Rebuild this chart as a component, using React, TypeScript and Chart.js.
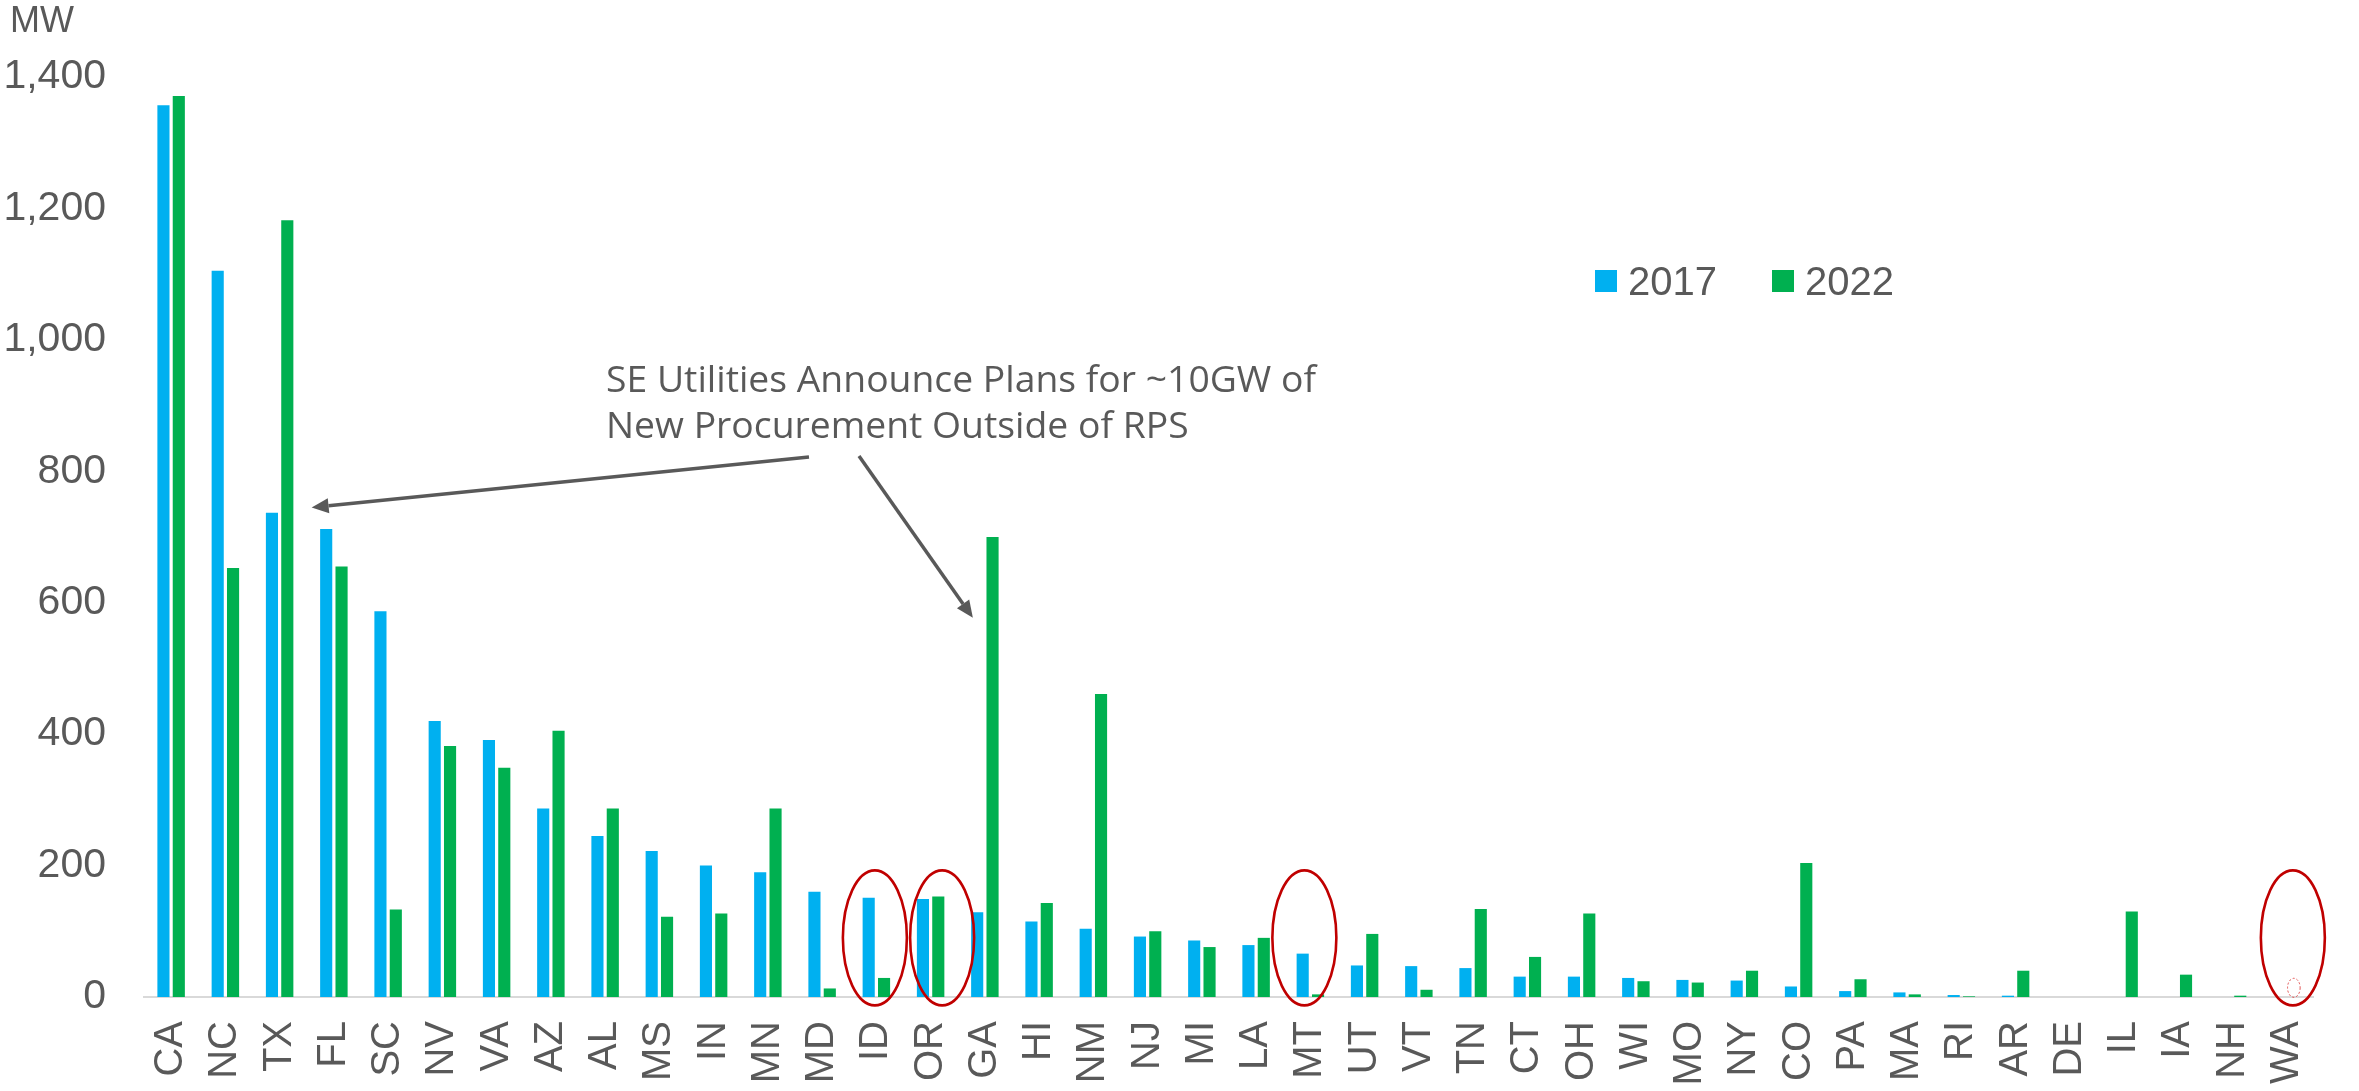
import React, { useEffect, useRef } from "react";
import { Chart, registerables } from "chart.js";

Chart.register(...registerables);

const categories = ["CA","NC","TX","FL","SC","NV","VA","AZ","AL","MS","IN","MN","MD","ID","OR","GA","HI","NM","NJ","MI","LA","MT","UT","VT","TN","CT","OH","WI","MO","NY","CO","PA","MA","RI","AR","DE","IL","IA","NH","WA"];
const values2017 = [1357,1105,737,712,587,420,391,287,245,222,200,190,160,151,149,129,115,104,92,86,79,66,48,47,44,31,31,29,26,25,16,9,7,3,2,0,0,0,0,0];
const values2022 = [1371,653,1182,655,133,382,349,405,287,122,127,287,13,29,153,700,143,461,100,76,90,4,96,11,134,61,127,24,22,40,204,27,4,1,40,0,130,34,2,0];
const seriesLabels = ["2017", "2022"];
const seriesColors = ["#00B0F0", "#00B050"];
const yTicks = [0, 200, 400, 600, 800, 1000, 1200, 1400];
const unitLabel = "MW";
const noteLines = ["SE Utilities Announce Plans for ~10GW of", "New Procurement Outside of RPS"];
const circled = [
  { cat: "ID", dx: -1.5 },
  { cat: "OR", dx: 11.5 },
  { cat: "MT", dx: -6 },
  { cat: "WA", dx: 6 },
];

const TEXT = "#595959";
const FONT = "'Liberation Sans', Arial, sans-serif";

function arrow(ctx: CanvasRenderingContext2D, x1: number, y1: number, x2: number, y2: number) {
  const ang = Math.atan2(y2 - y1, x2 - x1);
  const len = 17, hw = 7.5;
  const bx = x2 - Math.cos(ang) * len;
  const by = y2 - Math.sin(ang) * len;
  ctx.save();
  ctx.strokeStyle = "#595959";
  ctx.fillStyle = "#595959";
  ctx.lineWidth = 3.5;
  ctx.beginPath();
  ctx.moveTo(x1, y1);
  ctx.lineTo(bx, by);
  ctx.stroke();
  ctx.beginPath();
  ctx.moveTo(x2, y2);
  ctx.lineTo(bx + Math.sin(ang) * hw, by - Math.cos(ang) * hw);
  ctx.lineTo(bx - Math.sin(ang) * hw, by + Math.cos(ang) * hw);
  ctx.closePath();
  ctx.fill();
  ctx.restore();
}

const overlay = {
  id: "overlay",
  afterDraw(chart: any) {
    const ctx: CanvasRenderingContext2D = chart.ctx;
    const xs = chart.scales.x;
    const ys = chart.scales.y;
    ctx.save();
    // unit label
    ctx.fillStyle = TEXT;
    ctx.font = `36px ${FONT}`;
    ctx.textAlign = "left";
    ctx.textBaseline = "alphabetic";
    ctx.fillText(unitLabel, 10, 32);

    // legend
    const legendX = [1595, 1772];
    chart.data.datasets.forEach((ds: any, i: number) => {
      ctx.fillStyle = ds.backgroundColor;
      ctx.fillRect(legendX[i], 270, 22, 22);
      ctx.fillStyle = TEXT;
      ctx.font = `40px ${FONT}`;
      ctx.fillText(ds.label, legendX[i] + 33, 295);
    });

    // annotation text
    ctx.font = `36px 'Open Sans', sans-serif`;
    const w = ctx.measureText(noteLines[0]).width;
    const sx = 710 / w;
    ctx.save();
    ctx.translate(606, 0);
    ctx.scale(sx, 1);
    ctx.fillStyle = TEXT;
    ctx.fillText(noteLines[0], 0, 392);
    ctx.fillText(noteLines[1], 0, 438);
    ctx.restore();

    // arrows
    arrow(ctx, 809, 457, xs.getPixelForValue(2) + 32, ys.getPixelForValue(745));
    arrow(ctx, 859, 456, xs.getPixelForValue(15) - 12, ys.getPixelForValue(577));

    // ellipses
    ctx.strokeStyle = "#C00000";
    ctx.lineWidth = 2.6;
    circled.forEach((c) => {
      const idx = categories.indexOf(c.cat);
      const cx = xs.getPixelForValue(idx) + c.dx;
      const cy = ys.getPixelForValue(90);
      ctx.beginPath();
      ctx.ellipse(cx, cy, 32, 67.5, 0, 0, Math.PI * 2);
      ctx.stroke();
    });
    const wa = categories.indexOf("WA");
    ctx.strokeStyle = "#E04848";
    ctx.lineWidth = 1;
    ctx.setLineDash([2, 2]);
    ctx.beginPath();
    ctx.ellipse(xs.getPixelForValue(wa) + 7, ys.getPixelForValue(14), 6.3, 9.5, 0, 0, Math.PI * 2);
    ctx.stroke();
    ctx.setLineDash([]);
    ctx.restore();
  },
};

export default function App() {
  const ref = useRef<HTMLCanvasElement | null>(null);
  useEffect(() => {
    if (!ref.current) return;
    const chart = new Chart(ref.current, {
      type: "bar",
      data: {
        labels: categories,
        datasets: [
          { label: seriesLabels[0], data: values2017, backgroundColor: seriesColors[0], categoryPercentage: 0.566, barPercentage: 0.79 },
          { label: seriesLabels[1], data: values2022, backgroundColor: seriesColors[1], categoryPercentage: 0.566, barPercentage: 0.79 },
        ],
      },
      options: {
        responsive: false,
        animation: false,
        devicePixelRatio: 1,
        layout: { padding: { top: 77, right: 12, left: 0, bottom: 0 } },
        plugins: { legend: { display: false }, tooltip: { enabled: false } },
        scales: {
          x: {
            grid: { display: false, drawTicks: false },
            border: { display: true, color: "#D9D9D9", width: 2 },
            ticks: {
              minRotation: 90,
              maxRotation: 90,
              autoSkip: false,
              padding: 24,
              color: TEXT,
              font: { family: FONT, size: 40 },
            },
            afterFit: (s: any) => { s.height = 94; },
          },
          y: {
            min: 0,
            max: 1400,
            afterBuildTicks: (s: any) => { s.ticks = yTicks.map((v) => ({ value: v })); },
            grid: { display: false, drawTicks: false },
            border: { display: false },
            ticks: {
              padding: 38,
              color: TEXT,
              font: { family: FONT, size: 41 },
              callback: (v: any) => Number(v).toLocaleString("en-US"),
            },
            afterFit: (s: any) => { s.width = 144; },
          },
        },
      },
      plugins: [overlay],
    });
    return () => chart.destroy();
  }, []);
  return (
    <div style={{ position: "fixed", left: 0, top: 0, width: 2359, height: 1091, background: "#fff" }}>
      <canvas ref={ref} width={2359} height={1091} style={{ display: "block" }} />
    </div>
  );
}
